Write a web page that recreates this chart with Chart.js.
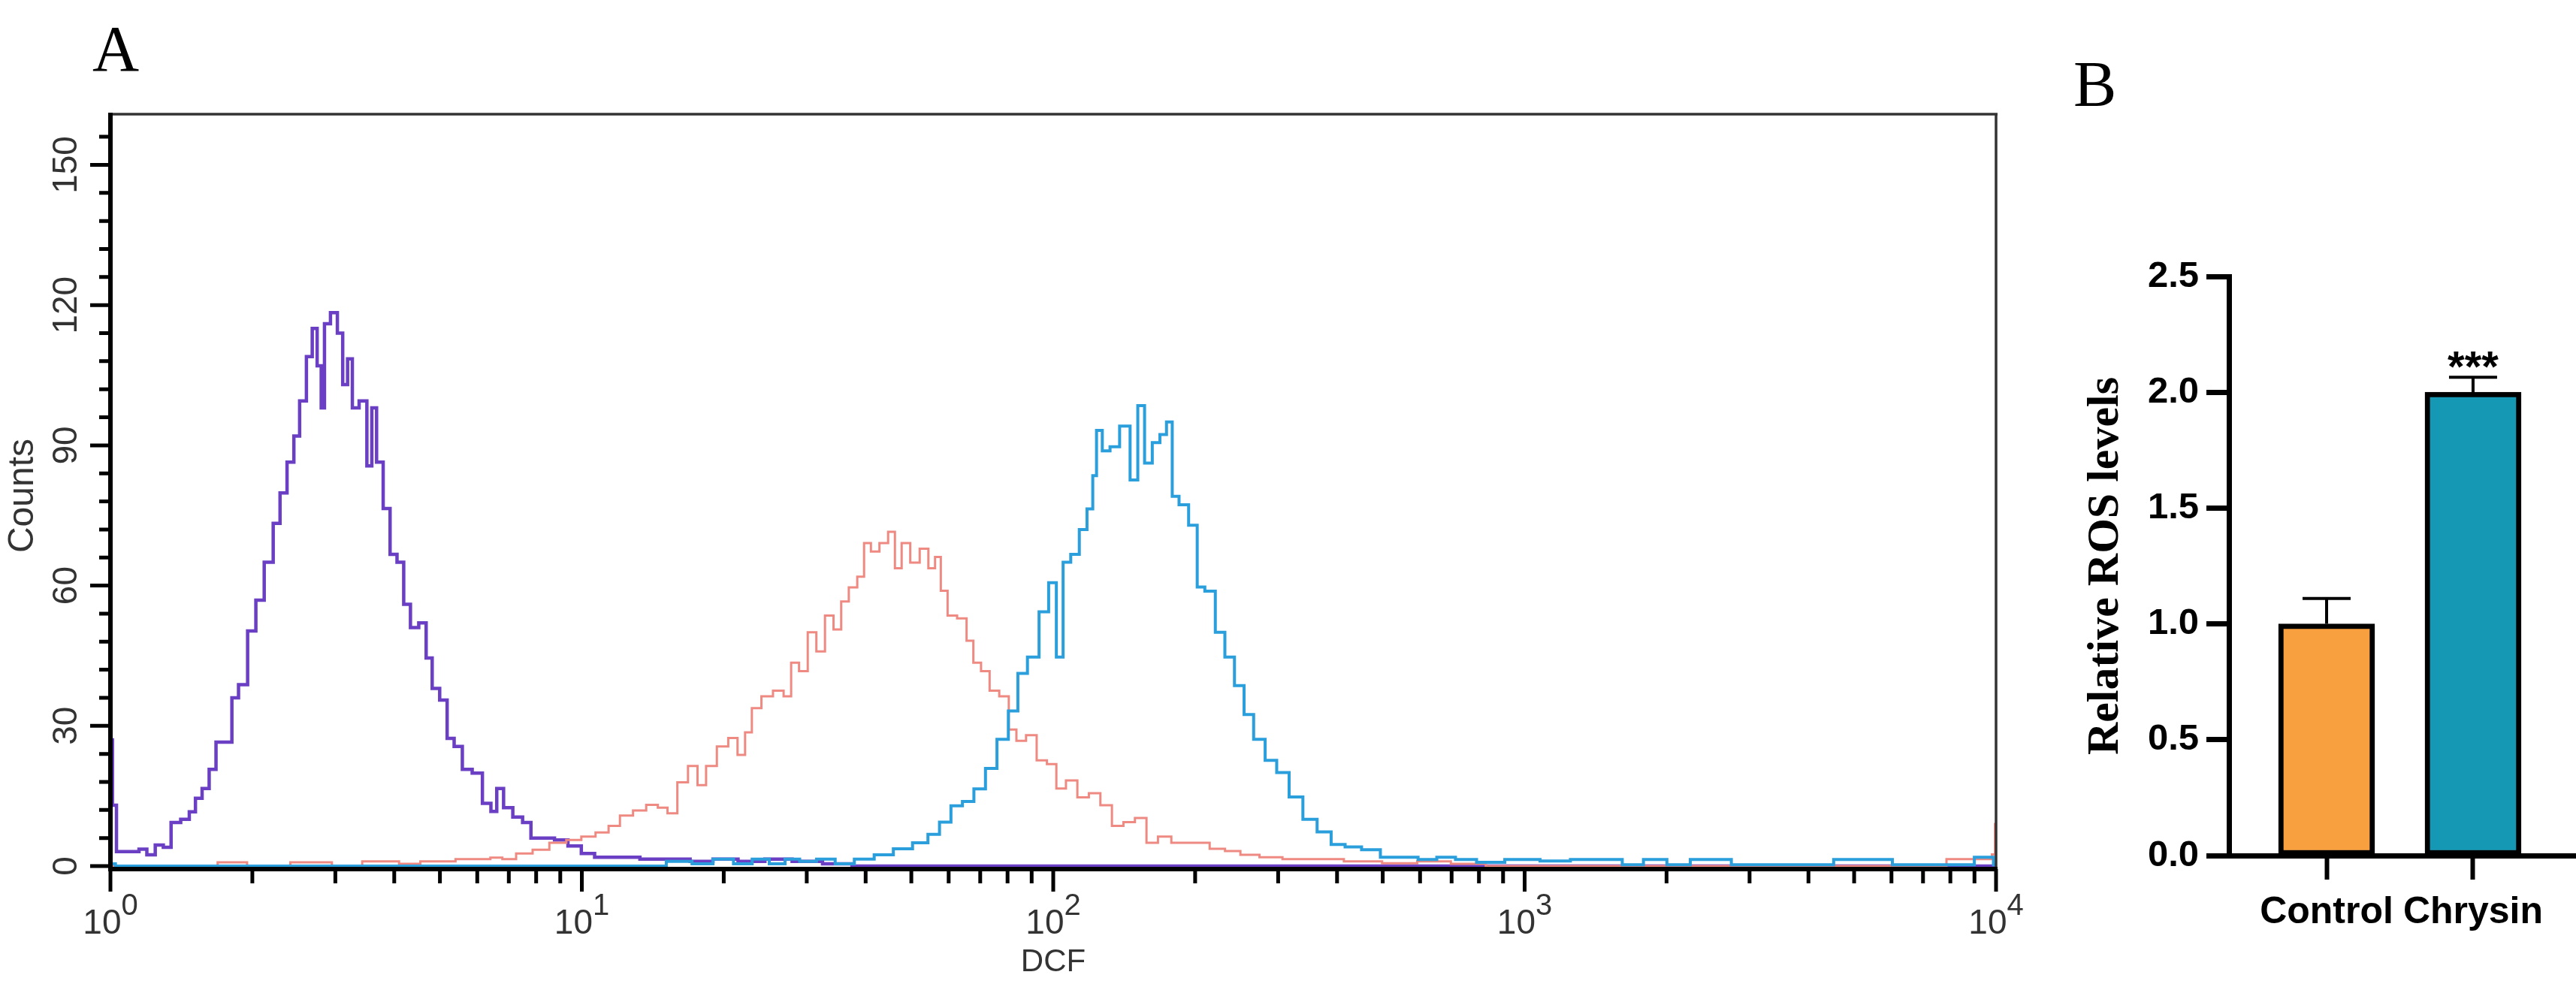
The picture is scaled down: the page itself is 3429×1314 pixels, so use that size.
<!DOCTYPE html>
<html>
<head>
<meta charset="utf-8">
<script src="https://cdn.jsdelivr.net/npm/chart.js@4.4.1/dist/chart.umd.min.js"></script>
<style>
  body { margin: 0; background: #fff; }
  #page { position: relative; width: 3429px; height: 1314px; overflow: hidden; background: #fff; }
  canvas { position: absolute; top: 0; }
  #histCanvas { left: 0; }
  #rosCanvas { left: 2763px; }
  .panel-label {
    position: absolute;
    font-family: 'Liberation Serif', 'Times New Roman', serif;
    font-size: 86px;
    line-height: 86px;
    color: #000;
  }
</style>
</head>
<body>
<div id="page">
  <canvas id="histCanvas" width="2763" height="1314"></canvas>
  <canvas id="rosCanvas" width="666" height="1314"></canvas>
  <div class="panel-label" style="left:123px; top:22px;">A</div>
  <div class="panel-label" style="left:2760px; top:69px;">B</div>
</div>
<script>
// ---- Panel A: DCF histograms ----
const purpleDcf = [1.00, 1.02, 1.04, 1.13, 1.17, 1.22, 1.27, 1.32, 1.37, 1.45, 1.49, 1.54, 1.59, 1.65, 1.70,
    1.79, 1.83, 1.91, 2.00, 2.07, 2.17, 2.26, 2.32, 2.42, 2.48, 2.56, 2.65, 2.71, 2.78, 2.82, 2.87, 2.99,
    3.07, 3.15, 3.22, 3.30, 3.44, 3.56, 3.61, 3.73, 3.85, 3.99, 4.12, 4.26, 4.40, 4.62, 4.73, 4.90, 5.09,
    5.27, 5.45, 5.71, 6.00, 6.31, 6.52, 6.68, 6.97, 7.31, 7.67, 7.93, 8.47, 9.04, 9.66, 10.3, 11.0, 11.7,
    12.6, 14.0, 16.0, 18.0, 20.0, 23.0, 26.0, 30.0, 35.0, 40.0, 10000];
const purpleCounts = [27, 13, 3.1, 3.1, 3.6, 2.4, 4.5, 4.0, 9.3, 10.0, 11.6, 14.5, 16.6, 20.7, 26.5,
    26.5, 36.0, 38.8, 50.3, 56.9, 65.0, 73.3, 79.8, 86.4, 92.0, 99.5, 109, 115, 107, 98, 116, 118.4,
    114, 103, 108.5, 98, 99.5, 85.6, 98, 86.4, 76.5, 66.7, 65, 56, 51, 52, 44.5, 38, 35.5,
    27.3, 25.6, 20.7, 19.9, 13.4, 11.7, 16.6, 12.5, 10.5, 9.3, 6, 6, 5.6, 4.3, 2.7, 1.9, 1.9,
    1.9, 1.5, 1.5, 1.0, 1.5, 1.0, 1.5, 1.0, 0.5, 0, 0];

const salmonDcf = [1.00, 1.50, 1.90, 2.00, 2.90, 3.00, 3.90, 4.30, 4.80, 5.20, 5.60, 6.20, 6.60, 6.97,
    7.55, 8.19, 8.89, 9.66, 10.3, 11.1, 11.7, 12.4, 13.3, 14.1, 14.9, 15.5, 16.4, 17.2, 18.0, 18.7, 20.0,
    20.9, 21.9, 22.5, 23.4, 24.7, 26.2, 27.4, 28.2, 29.6, 30.7, 32.2, 33.4, 35.0, 36.0, 37.7, 39.1, 40.3,
    41.8, 43.8, 45.5, 46.8, 48.6, 50.9, 53.3, 55.4, 56.9, 58.6, 60.8, 64.3, 66.7, 68.7, 71.9, 74.7, 79.0,
    82.0, 85.1, 90.1, 94.4, 99.6, 103.5, 109.4, 115.7, 122.4, 129.5, 137.0, 144.9, 153.3, 162.2, 171.5,
    184.8, 206.8, 222.9, 240.3, 259.0, 289.6, 324.1, 376.7, 454.0, 547.2, 640, 760, 900, 7800, 7900,
    9700, 9900, 10000];
const salmonCounts = [0, 0, 0.8, 0, 0.8, 0, 1.0, 0.5, 1.0, 1.0, 1.5, 1.5, 1.8, 1.5,
    2.7, 3.5, 5.0, 5.6, 6.3, 7.2, 8.6, 10.8, 11.9, 13.1, 12.5, 11.3, 17.9, 21.4, 17.3, 21.4, 25.6,
    27.4, 23.8, 28.6, 33.8, 36.3, 37.5, 36.3, 43.5, 41.7, 50.0, 45.9, 53.6, 50.6, 56.6, 59.6, 61.9, 69.1,
    67.3, 69.1, 71.5, 63.7, 69.1, 64.9, 67.9, 63.7, 66.1, 58.9, 53.6, 53.0, 48.2, 43.5, 41.7, 37.5, 36.3,
    29.2, 26.8, 28.0, 22.6, 21.8, 16.6, 18.3, 14.7, 15.6, 13.0, 8.6, 9.4, 10.3, 5.0, 6.3,
    5.0, 5.0, 3.7, 3.2, 2.4, 1.9, 1.5, 1.5, 1.0, 0.6, 1.0, 0.5, 0, 0, 1.5,
    1.5, 2.5, 9];

const blueDcf = [1.00, 1.05, 14.0, 16.3, 18.0, 20.0, 22.0, 24.0, 26.0, 28.0, 30.0, 33.0, 36.0, 39.8,
    43.7, 48.0, 52.7, 55.8, 59.0, 62.4, 66.0, 69.8, 73.9, 78.1, 82.6, 85.7, 90.7, 96.0, 99.6, 103.5,
    106.4, 111.5, 115.7, 120.2, 122.4, 124.7, 129.5, 134.5, 142.2, 149.0, 153.3, 159.2, 165.3, 171.5,
    176.3, 181.4, 188.4, 199.2, 204.9, 214.6, 227.0, 235.6, 249.3, 258.8, 273.7, 289.6, 306.4, 327,
    350.5, 375.7, 402, 430.6, 472.1, 517.5, 567.5, 622.2, 681.3, 746.9, 837, 984, 1181, 1324, 1521,
    1706, 1871, 2145, 2352, 2547, 2958, 3724, 5496, 6608, 8298, 9750, 10000];
const blueCounts = [0.5, 0, 0, 1.0, 0.5, 1.5, 0.5, 1.5, 0.5, 1.5, 1.0, 1.5, 0.5, 1.5,
    2.4, 3.7, 5.0, 6.8, 9.4, 12.9, 13.8, 16.5, 20.9, 27.1, 33.2, 41.2, 44.7, 54.4, 60.6, 44.7,
    65.0, 66.7, 72.0, 76.4, 83.5, 93.2, 88.8, 89.7, 94.1, 82.6, 98.5, 86.2, 90.6, 92.3,
    95.0, 79.1, 77.3, 72.9, 59.7, 58.8, 50.0, 44.7, 38.6, 32.4, 27.1, 22.6, 20.0, 14.8,
    10.0, 7.3, 4.6, 4.1, 3.5, 1.9, 1.9, 1.4, 1.9, 1.4, 0.8, 1.4, 1.1, 1.4, 1.4,
    0.3, 1.4, 0.3, 1.4, 1.4, 0.3, 0.3, 1.4, 0.3, 0.3, 1.9, 0.3];

const countTicks = [0, 30, 60, 90, 120, 150];
const decadeExponents = [0, 1, 2, 3, 4];

// ---- Panel B: relative ROS levels ----
const rosGroups = ['Control', 'Chrysin'];
const rosMeans = [1.0, 2.0];
const rosErrors = [0.11, 0.065];
const rosStars = ['', '***'];
const rosColors = ['#f8a040', '#1598b4'];
const rosTicks = [0, 0.5, 1.0, 1.5, 2.0, 2.5];

const AXIS_FONT = "'Liberation Sans', Arial, sans-serif";

function histSeries(label, xs, ys, color, width) {
    return {
        label,
        data: xs.map((x, i) => ({ x, y: ys[i] })),
        borderColor: color,
        borderWidth: width,
        stepped: 'middle',
        fill: false,
        clip: false,
        pointRadius: 0
    };
}

/**
 * Frame, minor/major ticks and labels for the cytometry plot
 */
const histFrame = {
    id: 'histFrame',
    afterDraw(chart) {
        const { ctx, chartArea: area, scales } = chart;
        const xs = scales.x;
        const ys = scales.y;
        const base = area.bottom + 4;

        ctx.save();
        // thin top / right frame
        ctx.strokeStyle = '#333';
        ctx.lineWidth = 3.5;
        ctx.beginPath();
        ctx.moveTo(area.left, area.top + 1);
        ctx.lineTo(area.right + 2, area.top + 1);
        ctx.moveTo(area.right, area.top);
        ctx.lineTo(area.right, base);
        ctx.stroke();

        // heavy left / bottom axes
        ctx.strokeStyle = '#000';
        ctx.lineWidth = 6;
        ctx.beginPath();
        ctx.moveTo(area.left, area.top - 1);
        ctx.lineTo(area.left, base + 3);
        ctx.moveTo(area.left - 3, base);
        ctx.lineTo(area.right + 2, base);
        ctx.stroke();

        // y ticks every 6 counts
        ctx.lineWidth = 5;
        ctx.beginPath();
        for (let v = 0; v <= ys.max; v += 6) {
            const py = ys.getPixelForValue(v);
            const len = countTicks.includes(v) ? 27 : 15;
            ctx.moveTo(area.left - len, py);
            ctx.lineTo(area.left, py);
        }
        ctx.stroke();

        // x ticks at 1..9 x 10^n
        ctx.beginPath();
        decadeExponents.forEach(e => {
            const steps = e < 4 ? 9 : 1;
            for (let m = 1; m <= steps; m++) {
                const px = xs.getPixelForValue(m * Math.pow(10, e));
                const len = m === 1 ? 30 : 19;
                ctx.moveTo(px, base);
                ctx.lineTo(px, base + len);
            }
        });
        ctx.stroke();

        // y labels, rotated
        ctx.fillStyle = '#333';
        ctx.font = `46px ${AXIS_FONT}`;
        ctx.textAlign = 'center';
        ctx.textBaseline = 'middle';
        countTicks.forEach(v => {
            ctx.save();
            ctx.translate(89, ys.getPixelForValue(v));
            ctx.rotate(-Math.PI / 2);
            ctx.fillText(String(v), 0, 0);
            ctx.restore();
        });
        ctx.save();
        ctx.translate(31, 660);
        ctx.rotate(-Math.PI / 2);
        ctx.font = `48px ${AXIS_FONT}`;
        ctx.fillText('Counts', 0, 0);
        ctx.restore();

        // x labels: 10 with raised exponent
        ctx.textAlign = 'left';
        ctx.textBaseline = 'alphabetic';
        decadeExponents.forEach(e => {
            const px = xs.getPixelForValue(Math.pow(10, e));
            ctx.font = `46px ${AXIS_FONT}`;
            const w1 = ctx.measureText('10').width;
            ctx.font = `40px ${AXIS_FONT}`;
            const w2 = ctx.measureText(String(e)).width;
            const start = px - (w1 + w2) / 2;
            ctx.font = `46px ${AXIS_FONT}`;
            ctx.fillText('10', start, 1243);
            ctx.font = `40px ${AXIS_FONT}`;
            ctx.fillText(String(e), start + w1, 1218);
        });
        ctx.font = `42px ${AXIS_FONT}`;
        ctx.textAlign = 'center';
        ctx.fillText('DCF', xs.getPixelForValue(100), 1293);
        ctx.restore();
    }
};

new Chart(document.getElementById('histCanvas'), {
    type: 'line',
    data: {
        datasets: [
            histSeries('Blue', blueDcf, blueCounts, '#2a9fdc', 4),
            histSeries('Salmon', salmonDcf, salmonCounts, '#ee8a82', 3),
            histSeries('Purple', purpleDcf, purpleCounts, '#6a3fc4', 4.5)
        ]
    },
    options: {
        responsive: false,
        animation: false,
        layout: { padding: { left: 147, top: 151, right: 106, bottom: 161 } },
        plugins: {
            legend: { display: false },
            tooltip: { enabled: false }
        },
        scales: {
            x: { type: 'logarithmic', min: 1, max: 10000, display: false },
            y: { type: 'linear', min: 0, max: 161, display: false }
        },
        elements: { line: { tension: 0 } }
    },
    plugins: [histFrame]
});

/**
 * Error bars and significance stars for panel B
 */
const rosErrorBars = {
    id: 'rosErrorBars',
    afterDatasetsDraw(chart) {
        const { ctx, scales } = chart;
        ctx.save();
        ctx.strokeStyle = '#000';
        ctx.fillStyle = '#000';
        ctx.lineWidth = 4;
        rosMeans.forEach((m, i) => {
            const px = scales.x.getPixelForValue(i + 1);
            const yBar = scales.y.getPixelForValue(m);
            const yTop = scales.y.getPixelForValue(m + rosErrors[i]);
            ctx.beginPath();
            ctx.moveTo(px, yBar);
            ctx.lineTo(px, yTop);
            ctx.moveTo(px - 32, yTop);
            ctx.lineTo(px + 32, yTop);
            ctx.stroke();
            if (rosStars[i]) {
                ctx.font = `bold 58px ${AXIS_FONT}`;
                ctx.textAlign = 'center';
                ctx.textBaseline = 'alphabetic';
                ctx.fillText(rosStars[i], px, yTop + 6);
            }
        });
        ctx.restore();
    }
};

new Chart(document.getElementById('rosCanvas'), {
    type: 'bar',
    data: {
        datasets: [{
            data: rosMeans.map((m, i) => ({ x: i + 1, y: m })),
            backgroundColor: rosColors,
            borderColor: '#000',
            borderWidth: 7,
            borderSkipped: false,
            barThickness: 128
        }]
    },
    options: {
        responsive: false,
        animation: false,
        layout: { padding: { top: 368, left: 0, right: 0, bottom: 0 } },
        plugins: {
            legend: { display: false },
            tooltip: { enabled: false }
        },
        scales: {
            x: {
                type: 'linear',
                min: 0.333,
                max: 2.703,
                offset: false,
                afterBuildTicks: (scale) => {
                    scale.ticks = rosGroups.map((g, i) => ({ value: i + 1 }));
                },
                afterFit: (scale) => { scale.height = 175; },
                grid: {
                    offset: false,
                    drawOnChartArea: false,
                    tickLength: 32,
                    tickWidth: 6,
                    tickColor: '#000'
                },
                border: { color: '#000', width: 7 },
                ticks: {
                    callback: (v) => rosGroups[v - 1],
                    font: { family: AXIS_FONT, size: 50, weight: 'bold' },
                    color: '#000',
                    padding: 14,
                    maxRotation: 0,
                    autoSkip: false
                }
            },
            y: {
                min: 0,
                max: 2.5,
                afterBuildTicks: (scale) => {
                    scale.ticks = rosTicks.map(v => ({ value: v }));
                },
                afterFit: (scale) => { scale.width = 204; },
                grid: {
                    drawOnChartArea: false,
                    tickLength: 30,
                    tickWidth: 7,
                    tickColor: '#000'
                },
                border: { color: '#000', width: 7 },
                ticks: {
                    callback: (v) => v.toFixed(1),
                    font: { family: AXIS_FONT, size: 49, weight: 'bold' },
                    color: '#000',
                    padding: 10
                },
                title: {
                    display: true,
                    text: 'Relative ROS levels',
                    font: { family: "'Liberation Serif', 'Times New Roman', serif", size: 60, weight: 'bold' },
                    color: '#000',
                    padding: { top: 4, bottom: 4 }
                }
            }
        }
    },
    plugins: [rosErrorBars]
});
</script>
</body>
</html>
